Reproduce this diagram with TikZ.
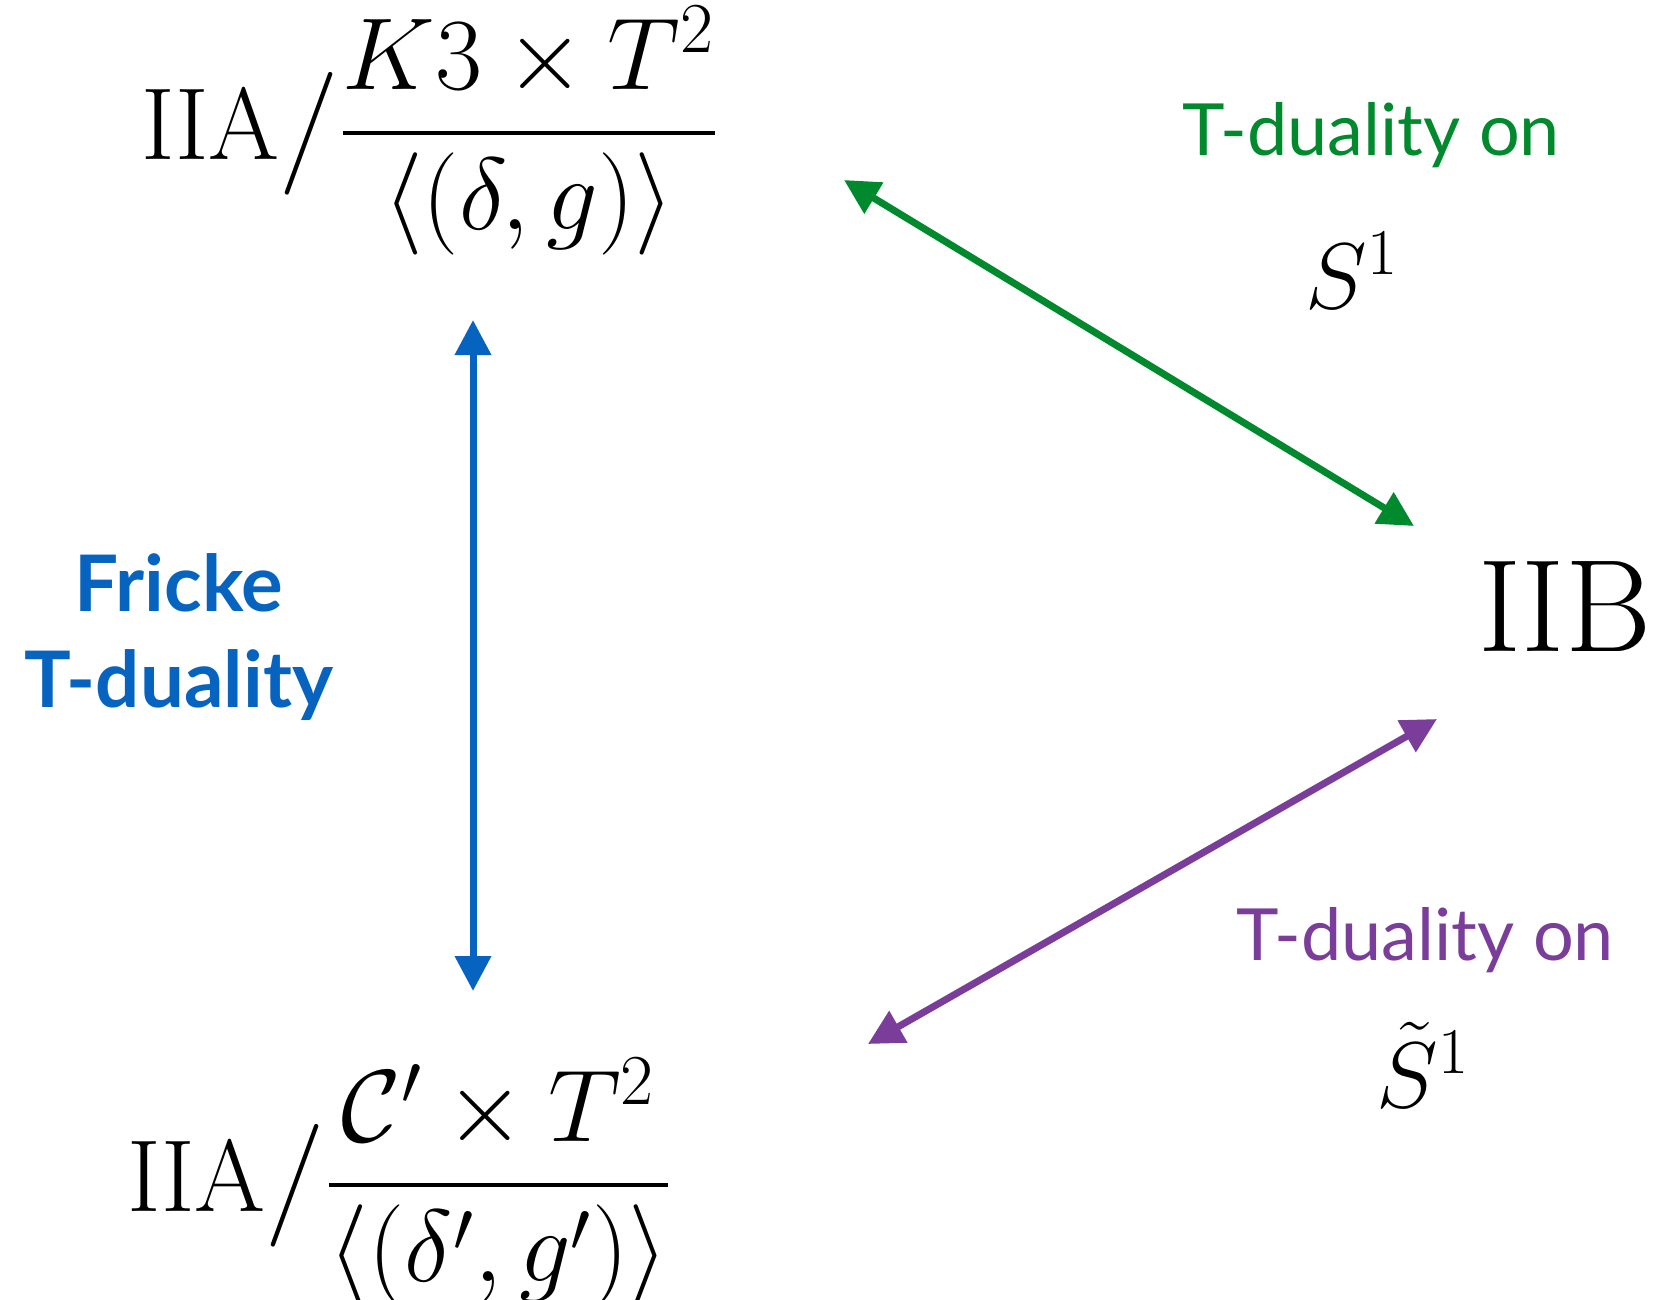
\RequirePackage{fix-cm}
\documentclass[tikz,border=0pt]{standalone}
\usepackage{amsmath,amssymb}
\usepackage{fontspec}
\setsansfont{Lato}
\usetikzlibrary{arrows.meta,positioning}
\definecolor{dualgreen}{RGB}{0,137,45}
\definecolor{frickeblue}{RGB}{6,100,192}
\definecolor{dualpurple}{RGB}{122,62,154}

\tikzset{
 theory/.style={inner sep=0pt,font=\fontsize{30.7}{36}\selectfont},
 bigtheory/.style={inner sep=0pt,font=\fontsize{39.5}{46}\selectfont},
 circlabel/.style={inner sep=0pt,font=\fontsize{28}{32}\selectfont},
 duallabel/.style={inner sep=0pt,font=\sffamily\fontsize{21.6}{26}\selectfont},
 frickelabel/.style={inner sep=0pt,align=center,
  font=\sffamily\bfseries\fontsize{23.4}{28.6}\selectfont},
 duality/.style={line width=2.1pt,
  {Triangle[length=10.5pt,width=10.5pt]}-{Triangle[length=10.5pt,width=10.5pt]}}
}

\begin{document}
\begin{tikzpicture}[x=0.3pt,y=-0.3pt,line cap=butt]
 \useasboundingbox (0,0) rectangle (1659,1300);
 % the three theories
 \node[theory,anchor=base west] (iiaTop) at (141,159)
  {$\displaystyle\mathrm{IIA}\big/\frac{K3\times T^2}{\langle(\delta,g)\rangle}$};
 \node[theory,anchor=base west] (iiaBot) at (127,1211)
  {$\displaystyle\mathrm{IIA}\big/\frac{\mathcal{C}'\times T^2}{\langle(\delta',g')\rangle}$};
 \node[bigtheory,anchor=base west] (iib) at (1478,651) {$\mathrm{IIB}$};
 % arrow ends
 \coordinate (blueTop) at (473,320);
 \coordinate (blueBot) at (473,991);
 \coordinate (greenTop) at (844,180);
 \coordinate (greenBot) at (1414,526);
 \coordinate (purpleBot) at (868,1044);
 \coordinate (purpleTop) at (1437,719);
 \draw[duality,frickeblue] (blueTop) -- (blueBot);
 \draw[duality,dualgreen] (greenTop) -- (greenBot);
 \draw[duality,dualpurple] (purpleBot) -- (purpleTop);
 % labels
 \node[frickelabel,frickeblue,anchor=base] (fricke) at (179,707)
  {Fricke\\T-duality};
 \node[duallabel,dualgreen,anchor=base] (onS) at (1371,155) {T-duality on};
 \node[circlabel,anchor=base] (sOne) at (1352,308) {$S^1$};
 \node[duallabel,dualpurple,anchor=base] (onSt) at (1425,960) {T-duality on};
 \node[circlabel,anchor=base] (sTilde) at (1423,1107) {$\tilde{S}^1$};
\end{tikzpicture}
\end{document}
